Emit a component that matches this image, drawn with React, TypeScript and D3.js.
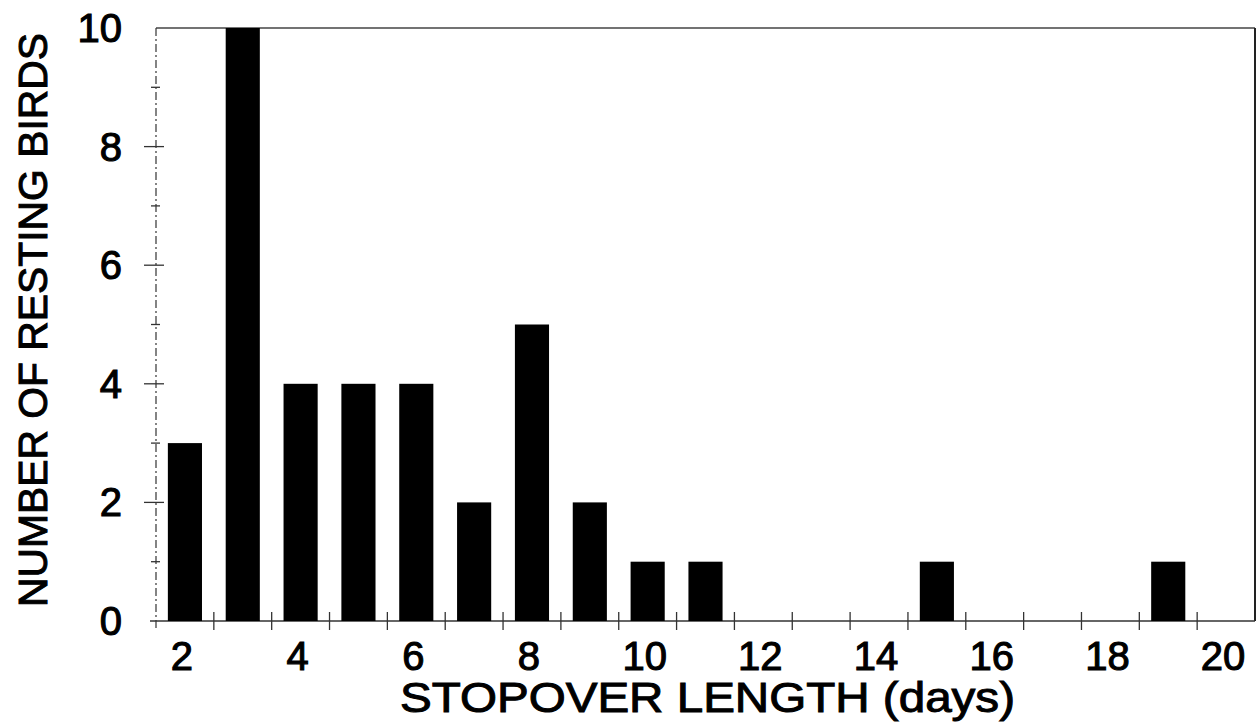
import React from "react";
import * as d3 from "d3";

const days = [2, 3, 4, 5, 6, 7, 8, 9, 10, 11, 15, 19];
const counts = [3, 10, 4, 4, 4, 2, 5, 2, 1, 1, 1, 1];
const xTickLabels = [2, 4, 6, 8, 10, 12, 14, 16, 18, 20];
const yTickLabels = [0, 2, 4, 6, 8, 10];
const xTitle = "STOPOVER LENGTH (days)";
const yTitle = "NUMBER OF RESTING BIRDS";

const W = 1258;
const H = 725;
const FONT = "'Liberation Sans', Arial, Helvetica, sans-serif";

export default function App() {
  const x = d3.scaleLinear().domain([1.5, 20.5]).range([156, 1255]);
  const y = d3.scaleLinear().domain([0, 10]).range([621, 28]);
  const halfW = 0.295;
  const xMinor = d3.range(2.5, 20, 1);
  const yMinor = d3.range(1, 10, 1);

  return (
    <svg
      width={W}
      height={H}
      style={{ position: "absolute", left: 0, top: 0, background: "#fff" }}
    >
      <rect x={0} y={0} width={W} height={H} fill="#fff" />
      {/* frame */}
      <line x1={x(1.5)} x2={x(20.5)} y1={y(10)} y2={y(10)} stroke="#444" strokeWidth={1.5} />
      <line x1={x(20.5)} x2={x(20.5)} y1={y(10)} y2={y(0)} stroke="#222" strokeWidth={2} />
      <line
        x1={x(1.5)}
        x2={x(1.5)}
        y1={y(10)}
        y2={y(0) + 8}
        stroke="#333"
        strokeWidth={1.2}
        strokeDasharray="8 3 2 3"
      />
      <line x1={x(1.5) - 6} x2={x(20.5)} y1={y(0)} y2={y(0)} stroke="#333" strokeWidth={1.5} />

      {/* bars */}
      {days.map((d, i) => (
        <rect
          key={d}
          x={x(d - halfW)}
          width={x(d + halfW) - x(d - halfW)}
          y={y(counts[i])}
          height={y(0) - y(counts[i])}
          fill="#000"
        />
      ))}

      {/* x ticks */}
      {xMinor.map((t) => (
        <line key={"xt" + t} x1={x(t)} x2={x(t)} y1={y(0) - 9} y2={y(0) + 9} stroke="#333" strokeWidth={1.3} />
      ))}
      {/* y ticks */}
      {yMinor.map((t) => (
        <line
          key={"yt" + t}
          x1={t % 2 === 0 ? x(1.5) - 12 : x(1.5) - 5}
          x2={t % 2 === 0 ? x(1.5) + 8 : x(1.5) + 4}
          y1={y(t)}
          y2={y(t)}
          stroke="#333"
          strokeWidth={1.3}
        />
      ))}

      {/* x tick labels */}
      {xTickLabels.map((t) => (
        <text
          key={"xl" + t}
          x={x(t) - 3}
          y={670}
          textAnchor="middle"
          fontFamily={FONT}
          fontSize={40}
          fill="#000"
          stroke="#000"
          strokeWidth={1.1}
        >
          {t}
        </text>
      ))}
      {/* y tick labels */}
      {yTickLabels.map((t) => (
        <text
          key={"yl" + t}
          x={122}
          y={y(t) + 14}
          textAnchor="end"
          fontFamily={FONT}
          fontSize={40}
          fill="#000"
          stroke="#000"
          strokeWidth={1.1}
        >
          {t}
        </text>
      ))}

      {/* titles */}
      <text
        x={400}
        y={712}
        fontFamily={FONT}
        fontSize={42}
        textLength={615}
        lengthAdjust="spacingAndGlyphs"
        fill="#000"
        stroke="#000"
        strokeWidth={1}
      >
        {xTitle}
      </text>
      <text
        transform={`translate(47, 320) rotate(-90)`}
        textAnchor="middle"
        fontFamily={FONT}
        fontSize={41}
        textLength={574}
        lengthAdjust="spacingAndGlyphs"
        fill="#000"
        stroke="#000"
        strokeWidth={1}
      >
        {yTitle}
      </text>
    </svg>
  );
}
